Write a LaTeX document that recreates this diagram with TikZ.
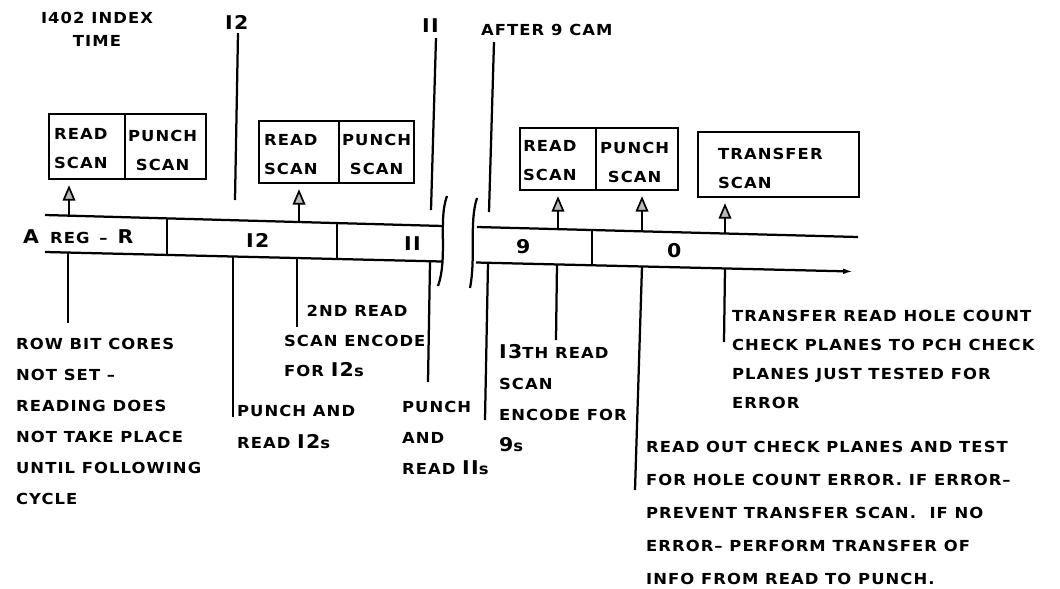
\documentclass[tikz,border=0pt]{standalone}
\usepackage{fontspec}
\usetikzlibrary{arrows.meta}
\newfontfamily\lbl{DejaVu Sans}[FakeStretch=1.08,LetterSpace=7]
\newcommand\Lg[1]{{\fontsize{13.5}{13.5}\selectfont #1}}
\newcommand\pxu{0.025cm}
\tikzset{
  lab/.style={font=\lbl\bfseries\fontsize{10.8}{22}\selectfont, inner sep=0pt, anchor=north west, align=left},
  labb/.style={lab, font=\lbl\bfseries\fontsize{10.8}{21}\selectfont},
  labn/.style={lab, font=\lbl\bfseries\fontsize{10.8}{20.6}\selectfont},
  labw/.style={lab, font=\lbl\bfseries\fontsize{10.8}{23.5}\selectfont},
  cellbox/.style={draw, inner sep=0pt, anchor=north west},
  arr/.style={-{Triangle[length=11pt,width=9pt,fill=gray!55,line width=1.2pt]}, shorten >=3.5pt},
}
\begin{document}
\begin{tikzpicture}[x=0.025cm,y=-0.025cm,line width=1.6pt]
\useasboundingbox (0,0) rectangle (1060,588);

% top labels
\node[lab, anchor=north, align=center, font=\lbl\bfseries\fontsize{10.8}{16.4}\selectfont] (idx) at (97,11) {I402 INDEX\\TIME};
\node[lab] (tI2) at (224,14) {\Lg{I2}};
\node[lab] (tII) at (421,18) {\Lg{II}};
\node[lab] (aft) at (480,23) {AFTER 9 CAM};

% top marker lines
\coordinate (m1a) at (238,33); \coordinate (m1b) at (235,200);
\coordinate (m2a) at (436,38); \coordinate (m2b) at (431,210);
\coordinate (m3a) at (494,42); \coordinate (m3b) at (489,212);
\draw (m1a) -- (m1b);
\draw (m2a) -- (m2b);
\draw (m3a) -- (m3b);

% boxes
\node[cellbox, minimum width=76*\pxu, minimum height=65*\pxu] (b1l) at (48,113) {};
\node[cellbox, minimum width=81*\pxu, minimum height=65*\pxu] (b1r) at (124,113) {};
\node[cellbox, minimum width=80*\pxu, minimum height=62*\pxu] (b2l) at (258,120) {};
\node[cellbox, minimum width=75*\pxu, minimum height=62*\pxu] (b2r) at (338,120) {};
\node[cellbox, minimum width=76*\pxu, minimum height=62*\pxu] (b3l) at (519,127) {};
\node[cellbox, minimum width=82*\pxu, minimum height=62*\pxu] (b3r) at (595,127) {};
\node[cellbox, minimum width=161*\pxu, minimum height=65*\pxu] (b4) at (697,131) {};

\node[labb] (b1lt) at (53,127) {READ\\SCAN};
\node[labb, align=center] (b1rt) at (127,129) {PUNCH\\SCAN};
\node[labb, align=center] (b2lt) at (263,133) {READ\\SCAN};
\node[labb, align=center] (b2rt) at (341,133) {PUNCH\\SCAN};
\node[labb, align=right] (b3lt) at (522,139) {READ\\SCAN};
\node[labb, align=center] (b3rt) at (599,141) {PUNCH\\SCAN};
\node[labb] (b4t) at (717,147) {TRANSFER\\SCAN};

% timeline
\coordinate (TL1) at (45,215);  \coordinate (TL2) at (443,226);
\coordinate (BL1) at (45,252);  \coordinate (BL2) at (442,261.5);
\coordinate (TR1) at (477,227); \coordinate (TR2) at (858,237);
\coordinate (BR1) at (476,262.5); \coordinate (BR2) at (853,271.5);
\draw (TL1) -- (TL2);
\draw (BL1) -- (BL2);
\draw (TR1) -- (TR2);
\draw[-{Latex[length=7pt,width=4pt]}] (BR1) -- (BR2);

% break marks
\coordinate (k1a) at (447,196); \coordinate (k1b) at (438,286);
\coordinate (k2a) at (477,198); \coordinate (k2b) at (470,288);
\draw (k1a) .. controls (438,220) and (448,258) .. (k1b);
\draw (k2a) .. controls (469,222) and (476,258) .. (k2b);

% cell dividers
\coordinate (d1a) at (167,218.3); \coordinate (d1b) at (167,255);
\coordinate (d2a) at (337,223);   \coordinate (d2b) at (337,259);
\coordinate (d3a) at (592,229.8); \coordinate (d3b) at (592,265);
\draw (d1a) -- (d1b);
\draw (d2a) -- (d2b);
\draw (d3a) -- (d3b);

% cell texts
\node[lab] (cA) at (22,229) {\Lg{A}\hspace*{8pt}REG\hspace*{7pt}–\hspace*{7pt}\Lg{R}};
\node[lab] (cI2) at (245,232) {\Lg{I2}};
\node[lab] (cII) at (403,236) {\Lg{II}};
\node[lab] (c9) at (515,238) {\Lg{9}};
\node[lab] (c0) at (666,242) {\Lg{0}};

% arrows up to boxes
\coordinate (a1) at (69,215.6);
\coordinate (a2) at (299,222);
\coordinate (a3) at (558,229);
\coordinate (a4) at (642,231);
\coordinate (a5) at (725,233.5);
\draw[arr] (a1) -- (a1 |- b1l.south);
\draw[arr] (a2) -- (a2 |- b2l.south);
\draw[arr] (a3) -- (a3 |- b3l.south);
\draw[arr] (a4) -- (a4 |- b3r.south);
\draw[arr] (a5) -- (a5 |- b4.south);

% lower ticks
\coordinate (t1a) at (68,252.6);  \coordinate (t1b) at (68,323);
\coordinate (t2a) at (233,256.5); \coordinate (t2b) at (233,417);
\coordinate (t3a) at (297,258);   \coordinate (t3b) at (297,327);
\coordinate (t4a) at (430,262);   \coordinate (t4b) at (428,382);
\coordinate (t5a) at (488,263);   \coordinate (t5b) at (485,420);
\coordinate (t6a) at (557,264.2); \coordinate (t6b) at (556,340);
\coordinate (t7a) at (642,266.3); \coordinate (t7b) at (635,490);
\coordinate (t8a) at (725,268.3); \coordinate (t8b) at (724,342);
\draw (t1a) -- (t1b);
\draw (t2a) -- (t2b);
\draw (t3a) -- (t3b);
\draw (t4a) -- (t4b);
\draw (t5a) -- (t5b);
\draw (t6a) -- (t6b);
\draw (t7a) -- (t7b);
\draw (t8a) -- (t8b);

% lower texts
\node[lab] (row) at (15,337) {ROW BIT CORES\\NOT SET –\\READING DOES\\NOT TAKE PLACE\\UNTIL FOLLOWING\\CYCLE};
\node[lab, font=\lbl\bfseries\fontsize{10.8}{22.7}\selectfont] (pr12) at (236,404) {PUNCH AND\\READ \Lg{I2}s};
\node[lab, font=\lbl\bfseries\fontsize{10.8}{21.3}\selectfont] (enc12) at (283,304) {\hspace*{16pt}2ND READ\\SCAN ENCODE\\FOR \Lg{I2}s};
\node[lab] (pr11) at (401,400) {PUNCH\\AND\\READ \Lg{II}s};
\node[lab] (enc9) at (498,343) {\Lg{I3}TH READ\\SCAN\\ENCODE FOR\\\Lg{9}s};
\node[labn] (trans) at (731,309) {TRANSFER READ HOLE COUNT\\CHECK PLANES TO PCH CHECK\\PLANES JUST TESTED FOR\\ERROR};
\node[labw] (rdout) at (645,440) {READ OUT CHECK PLANES AND TEST\\FOR HOLE COUNT ERROR. IF ERROR–\\PREVENT TRANSFER SCAN. \ IF NO\\ERROR– PERFORM TRANSFER OF\\INFO FROM READ TO PUNCH.};
\end{tikzpicture}
\end{document}
